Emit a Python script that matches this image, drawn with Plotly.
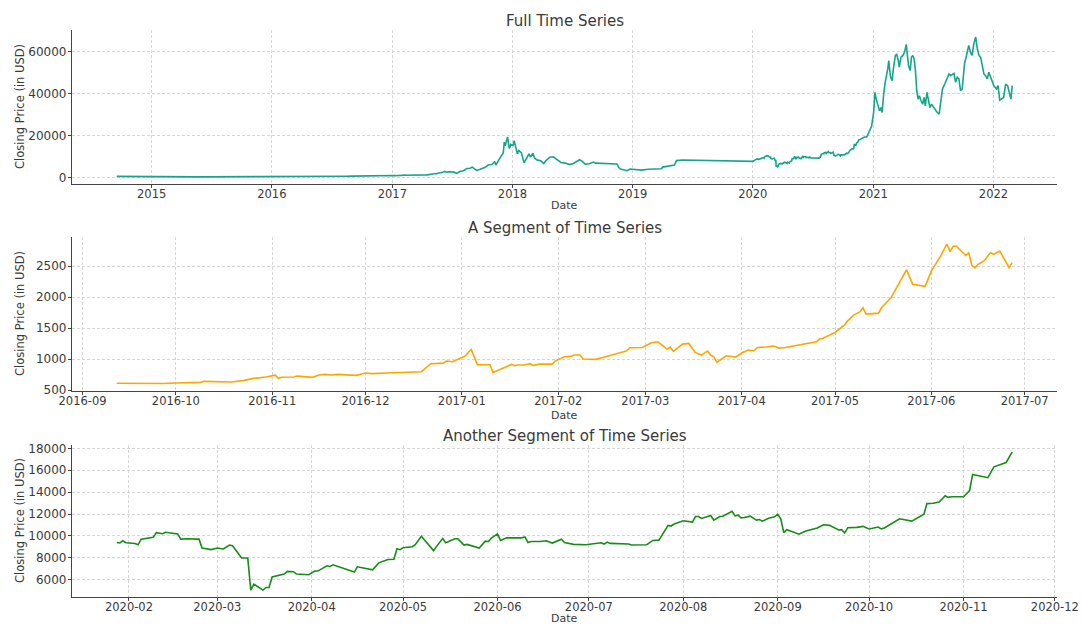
import pandas as pd
import plotly.graph_objects as go

# ---- closing prices (USD) ----
# 2014-09 .. 2016-09
early_dates = ["2014-09-17", "2014-10-15", "2014-11-15", "2014-12-15", "2015-01-14", "2015-02-15",
               "2015-03-15", "2015-04-15", "2015-05-15", "2015-06-15", "2015-07-15", "2015-08-15",
               "2015-09-15", "2015-10-15", "2015-11-04", "2015-11-15", "2015-12-15", "2016-01-15",
               "2016-02-15", "2016-03-15", "2016-04-15", "2016-05-15", "2016-06-17", "2016-07-15",
               "2016-08-15", "2016-09-01"]
early_close = [457, 395, 400, 345, 178, 235, 285, 225, 237, 236, 285, 260,
               229, 255, 400, 320, 440, 375, 405, 415, 430, 455, 760, 660,
               570, 575]

# first window: 2016-09 .. 2017-06
seg_a_dates = ["2016-09-12", "2016-09-16", "2016-09-21", "2016-09-27", "2016-10-01", "2016-10-09",
               "2016-10-10", "2016-10-17", "2016-10-19", "2016-10-23", "2016-10-26", "2016-10-30",
               "2016-11-02", "2016-11-03", "2016-11-04", "2016-11-08", "2016-11-09", "2016-11-14",
               "2016-11-16", "2016-11-18", "2016-11-20", "2016-11-22", "2016-11-28", "2016-12-01",
               "2016-12-03", "2016-12-08", "2016-12-14", "2016-12-16", "2016-12-19", "2016-12-22",
               "2016-12-26", "2016-12-27", "2016-12-29", "2017-01-02", "2017-01-04", "2017-01-06",
               "2017-01-10", "2017-01-11", "2017-01-17", "2017-01-18", "2017-01-19", "2017-01-21",
               "2017-01-23", "2017-01-24", "2017-01-26", "2017-01-30", "2017-01-31", "2017-02-03",
               "2017-02-05", "2017-02-06", "2017-02-08", "2017-02-09", "2017-02-13", "2017-02-15",
               "2017-02-19", "2017-02-22", "2017-02-23", "2017-02-24", "2017-02-28", "2017-03-03",
               "2017-03-05", "2017-03-08", "2017-03-09", "2017-03-10", "2017-03-13", "2017-03-15",
               "2017-03-17", "2017-03-19", "2017-03-21", "2017-03-22", "2017-03-23", "2017-03-24",
               "2017-03-27", "2017-03-30", "2017-04-01", "2017-04-03", "2017-04-05", "2017-04-06",
               "2017-04-09", "2017-04-11", "2017-04-12", "2017-04-13", "2017-04-15", "2017-04-17",
               "2017-04-19", "2017-04-21", "2017-04-23", "2017-04-25", "2017-04-26", "2017-04-27",
               "2017-05-01", "2017-05-04", "2017-05-05", "2017-05-07", "2017-05-09", "2017-05-10",
               "2017-05-11", "2017-05-15", "2017-05-16", "2017-05-17", "2017-05-19", "2017-05-21",
               "2017-05-24", "2017-05-26", "2017-05-30", "2017-06-01", "2017-06-04", "2017-06-06",
               "2017-06-07", "2017-06-08", "2017-06-09", "2017-06-12", "2017-06-13", "2017-06-14",
               "2017-06-15", "2017-06-16", "2017-06-18", "2017-06-20", "2017-06-21", "2017-06-23",
               "2017-06-26", "2017-06-27"]
seg_a_close = [610, 608, 597, 605, 613, 624,
               640, 640, 630, 656, 688, 710,
               740, 688, 705, 710, 725, 705,
               742, 752, 742, 752, 737, 775,
               765, 775, 780, 790, 796, 925,
               935, 968, 957, 1048, 1155, 909,
               909, 785, 914, 892, 903, 903,
               925, 898, 919, 919, 968, 1038,
               1043, 1065, 1065, 1000, 995, 1022,
               1070, 1118, 1134, 1183, 1188, 1263,
               1280, 1161, 1194, 1124, 1242, 1253,
               1108, 1065, 1129, 1065, 1038, 946,
               1054, 1032, 1097, 1145, 1134, 1188,
               1194, 1210, 1199, 1177, 1188, 1204,
               1226, 1237, 1258, 1280, 1323, 1333,
               1430, 1548, 1613, 1710, 1763, 1828,
               1726, 1742, 1833, 1887, 1989, 2172,
               2441, 2210, 2177, 2425, 2667, 2860,
               2737, 2823, 2828, 2677, 2715, 2516,
               2473, 2532, 2591, 2720, 2694, 2747,
               2478, 2559]

# 2017-07 .. 2020-01
mid_dates = ["2017-07-05", "2017-07-16", "2017-07-25", "2017-08-05", "2017-08-15", "2017-08-25",
             "2017-09-01", "2017-09-14", "2017-09-25", "2017-10-10", "2017-10-20", "2017-10-30",
             "2017-11-08", "2017-11-12", "2017-11-20", "2017-11-28", "2017-12-04", "2017-12-07",
             "2017-12-10", "2017-12-17", "2017-12-22", "2017-12-27", "2018-01-03", "2018-01-06",
             "2018-01-10", "2018-01-16", "2018-01-20", "2018-01-28", "2018-02-05", "2018-02-10",
             "2018-02-20", "2018-02-25", "2018-03-04", "2018-03-10", "2018-03-18", "2018-03-28",
             "2018-04-06", "2018-04-12", "2018-04-24", "2018-05-05", "2018-05-15", "2018-05-28",
             "2018-06-10", "2018-06-24", "2018-07-05", "2018-07-24", "2018-08-01", "2018-08-10",
             "2018-08-22", "2018-09-04", "2018-09-10", "2018-11-14", "2018-11-20", "2018-11-25",
             "2018-12-07", "2018-12-15", "2018-12-24", "2019-01-10", "2019-01-28", "2019-02-18",
             "2019-03-10", "2019-03-30", "2019-04-02", "2019-04-20", "2019-05-08", "2019-05-14",
             "2019-05-20", "2019-06-01", "2020-01-01", "2020-01-08", "2020-01-14", "2020-01-20"]
mid_close = [2600, 1930, 2750, 3200, 4200, 4350,
             4900, 3300, 3900, 4800, 6000, 6100,
             7400, 5900, 8200, 9900, 11600, 16800,
             15000, 19300, 13800, 15700, 15200, 17500,
             14500, 11200, 12800, 11800, 6900, 8600,
             11200, 9600, 11500, 9000, 8200, 7900,
             6600, 7900, 9600, 9800, 8700, 7100,
             6800, 6100, 6600, 8400, 7600, 6300,
             6500, 7300, 6800, 6400, 4700, 4000,
             3500, 3200, 4000, 3600, 3450, 3900,
             3900, 4100, 4900, 5300, 5900, 8000,
             8100, 8300, 7600, 8100, 8800, 8600]

# second window: 2020-01 .. 2020-11
seg_b_dates = ["2020-01-28", "2020-01-29", "2020-01-30", "2020-01-31", "2020-02-03", "2020-02-04",
               "2020-02-05", "2020-02-07", "2020-02-09", "2020-02-10", "2020-02-12", "2020-02-13",
               "2020-02-17", "2020-02-18", "2020-02-20", "2020-02-24", "2020-02-25", "2020-02-28",
               "2020-03-01", "2020-03-03", "2020-03-05", "2020-03-06", "2020-03-09", "2020-03-11",
               "2020-03-12", "2020-03-13", "2020-03-16", "2020-03-17", "2020-03-18", "2020-03-19",
               "2020-03-21", "2020-03-23", "2020-03-24", "2020-03-26", "2020-03-27", "2020-03-31",
               "2020-04-02", "2020-04-03", "2020-04-06", "2020-04-07", "2020-04-08", "2020-04-13",
               "2020-04-15", "2020-04-16", "2020-04-18", "2020-04-21", "2020-04-23", "2020-04-26",
               "2020-04-28", "2020-04-29", "2020-04-30", "2020-05-01", "2020-05-04", "2020-05-05",
               "2020-05-07", "2020-05-11", "2020-05-12", "2020-05-14", "2020-05-15", "2020-05-18",
               "2020-05-19", "2020-05-21", "2020-05-22", "2020-05-26", "2020-05-28", "2020-05-29",
               "2020-05-30", "2020-06-01", "2020-06-02", "2020-06-04", "2020-06-09", "2020-06-10",
               "2020-06-11", "2020-06-12", "2020-06-15", "2020-06-17", "2020-06-19", "2020-06-21",
               "2020-06-22", "2020-06-23", "2020-06-26", "2020-06-30", "2020-07-02", "2020-07-05",
               "2020-07-06", "2020-07-07", "2020-07-08", "2020-07-14", "2020-07-15", "2020-07-20",
               "2020-07-22", "2020-07-24", "2020-07-27", "2020-07-28", "2020-07-29", "2020-08-01",
               "2020-08-04", "2020-08-05", "2020-08-06", "2020-08-07", "2020-08-10", "2020-08-11",
               "2020-08-13", "2020-08-14", "2020-08-17", "2020-08-18", "2020-08-19", "2020-08-20",
               "2020-08-21", "2020-08-23", "2020-08-25", "2020-08-26", "2020-08-27", "2020-08-29",
               "2020-08-31", "2020-09-01", "2020-09-02", "2020-09-03", "2020-09-04", "2020-09-08",
               "2020-09-10", "2020-09-14", "2020-09-16", "2020-09-18", "2020-09-21", "2020-09-22",
               "2020-09-23", "2020-09-24", "2020-09-27", "2020-09-29", "2020-10-01", "2020-10-04",
               "2020-10-05", "2020-10-06", "2020-10-11", "2020-10-13", "2020-10-15", "2020-10-19",
               "2020-10-20", "2020-10-22", "2020-10-24", "2020-10-26", "2020-10-27", "2020-10-28",
               "2020-11-01", "2020-11-03", "2020-11-04", "2020-11-09", "2020-11-11", "2020-11-15",
               "2020-11-17"]
seg_b_close = [9400, 9350, 9550, 9370, 9300, 9180,
               9700, 9820, 9880, 10300, 10200, 10330,
               10180, 9700, 9730, 9700, 8890, 8740,
               8890, 8800, 9160, 9100, 7980, 7980,
               5040, 5580, 5040, 5280, 5280, 6240,
               6390, 6510, 6750, 6720, 6510, 6450,
               6780, 6780, 7260, 7200, 7350, 6900,
               6690, 7170, 7080, 6900, 7530, 7840,
               7860, 8830, 8740, 8920, 9010, 9190,
               9970, 8650, 9040, 9760, 9370, 9730,
               9730, 9160, 9220, 8890, 9520, 9490,
               9790, 10180, 9580, 9820, 9820, 9910,
               9400, 9490, 9490, 9550, 9340, 9550,
               9700, 9400, 9220, 9190, 9280, 9370,
               9250, 9430, 9310, 9250, 9160, 9190,
               9580, 9610, 10960, 10900, 11080, 11380,
               11260, 11770, 11770, 11590, 11860, 11440,
               11770, 11800, 12250, 11830, 11890, 11650,
               11680, 11800, 11440, 11500, 11350, 11620,
               11740, 11980, 11560, 10300, 10570, 10150,
               10420, 10720, 11020, 10960, 10540, 10570,
               10270, 10750, 10780, 10870, 10630, 10810,
               10630, 10720, 11560, 11470, 11350, 11980,
               12950, 12980, 13100, 13670, 13520, 13580,
               13580, 14150, 15620, 15320, 16320, 16710,
               17680]

# 2020-11 .. 2022-02
late_dates = ["2020-11-29", "2020-12-05", "2020-12-12", "2020-12-20", "2020-12-27", "2021-01-02",
              "2021-01-06", "2021-01-10", "2021-01-15", "2021-01-20", "2021-01-25", "2021-01-28",
              "2021-02-01", "2021-02-06", "2021-02-14", "2021-02-17", "2021-02-22", "2021-02-27",
              "2021-03-03", "2021-03-09", "2021-03-13", "2021-03-18", "2021-03-21", "2021-03-26",
              "2021-04-01", "2021-04-06", "2021-04-11", "2021-04-14", "2021-04-18", "2021-04-23",
              "2021-04-27", "2021-05-01", "2021-05-05", "2021-05-09", "2021-05-13", "2021-05-17",
              "2021-05-21", "2021-05-26", "2021-05-31", "2021-06-04", "2021-06-08", "2021-06-13",
              "2021-06-18", "2021-06-22", "2021-06-27", "2021-07-02", "2021-07-07", "2021-07-12",
              "2021-07-20", "2021-07-30", "2021-08-06", "2021-08-12", "2021-08-19", "2021-08-24",
              "2021-08-29", "2021-09-03", "2021-09-08", "2021-09-13", "2021-09-18", "2021-09-23",
              "2021-09-28", "2021-10-05", "2021-10-11", "2021-10-18", "2021-10-23", "2021-10-28",
              "2021-11-02", "2021-11-08", "2021-11-13", "2021-11-18", "2021-11-23", "2021-11-28",
              "2021-12-03", "2021-12-08", "2021-12-13", "2021-12-18", "2021-12-25", "2022-01-02",
              "2022-01-10", "2022-01-15", "2022-01-20", "2022-01-25", "2022-02-01", "2022-02-07",
              "2022-02-13", "2022-02-18", "2022-02-23", "2022-02-27"]
late_close = [18560, 19200, 19200, 22400, 24480, 30880,
              40480, 37280, 34880, 31680, 33280, 30880,
              38880, 45280, 51680, 55680, 48000, 46080,
              51680, 58080, 58560, 55680, 52480, 57280,
              58080, 59680, 63360, 58880, 53280, 50880,
              57280, 58080, 56480, 50880, 41280, 37280,
              38880, 36480, 34880, 38080, 34080, 40480,
              35200, 33280, 34880, 33600, 32480, 31360,
              30080, 42080, 44480, 46400, 49280, 48480,
              49280, 49600, 45280, 47680, 46880, 41280,
              42080, 54080, 58080, 62880, 59680, 58080,
              63360, 66880, 61280, 58080, 57280, 52480,
              49280, 48480, 46880, 50080, 46880, 43680,
              42080, 43680, 36800, 37280, 38080, 44480,
              43680, 40480, 37280, 43680]

TITLES = ["Full Time Series", "A Segment of Time Series", "Another Segment of Time Series"]
COLORS = ["#17a589", "#ffa500", "#178c17"]
Y_DTICK = [20000, 500, 2000]

full = pd.DataFrame({
    "date": pd.to_datetime(early_dates + seg_a_dates + mid_dates + seg_b_dates + late_dates),
    "close": early_close + seg_a_close + mid_close + seg_b_close + late_close,
}).sort_values("date")
seg_a = pd.DataFrame({"date": pd.to_datetime(seg_a_dates), "close": seg_a_close})
seg_b = pd.DataFrame({"date": pd.to_datetime(seg_b_dates), "close": seg_b_close})
panels = [full, seg_a, seg_b]

W, H = 1083, 626
LEFT, RIGHT = 72, 1057
BOXES = [(30, 184), (237, 391), (445, 597)]  # (top, bottom) in px
DATE_GAP = [21, 24, 21]                      # x-title offset below each axis, px

FONT = "DejaVu Sans"
TXT = "#3a3a3a"
GRID = dict(showgrid=True, gridcolor="#d6d6d6", griddash="3px,2px", gridwidth=0.8)
AXLINE = dict(showline=True, linecolor="#444444", linewidth=1.2,
              ticks="outside", ticklen=3, tickcolor="#444444", zeroline=False, automargin=False)

fig = go.Figure()
for i, (df, color) in enumerate(zip(panels, COLORS)):
    n = "" if i == 0 else str(i + 1)
    fig.add_trace(go.Scatter(x=df["date"], y=df["close"], mode="lines",
                             line=dict(color=color, width=1.6),
                             xaxis="x" + n, yaxis="y" + n, showlegend=False))

    # 5% padding around the data, like a default autoscale
    t0, t1 = df["date"].min(), df["date"].max()
    dt = (t1 - t0) * 0.05
    v0, v1 = df["close"].min(), df["close"].max()
    dv = (v1 - v0) * 0.05
    top, bottom = BOXES[i]

    xa = dict(domain=[LEFT / W, RIGHT / W], anchor="y" + n,
              range=[t0 - dt, t1 + dt], type="date",
              tickfont=dict(family=FONT, size=11.5, color=TXT), ticklabelstandoff=-4,
              **GRID, **AXLINE)
    if i == 0:
        xa.update(dtick="M12", tick0="2015-01-01", tickformat="%Y")
    else:
        xa.update(dtick="M1", tick0="2016-01-01", tickformat="%Y-%m")

    ya = dict(domain=[1 - bottom / H, 1 - top / H], anchor="x" + n,
              range=[v0 - dv, v1 + dv], dtick=Y_DTICK[i], tick0=0, tickformat="d",
              tickfont=dict(family=FONT, size=12, color=TXT), ticklabelstandoff=-1,
              **GRID, **AXLINE)
    fig.layout["xaxis" + n] = xa
    fig.layout["yaxis" + n] = ya

    # panel title
    fig.add_annotation(text=TITLES[i], xref="paper", yref="paper",
                       x=(LEFT + RIGHT) / 2 / W, y=1 - top / H, yshift=-2,
                       xanchor="center", yanchor="bottom", showarrow=False,
                       font=dict(family=FONT, size=15, color=TXT))
    # axis titles
    fig.add_annotation(text="Date", xref="paper", yref="paper",
                       x=(LEFT + RIGHT) / 2 / W, y=1 - (bottom + DATE_GAP[i]) / H,
                       xanchor="center", yanchor="middle", showarrow=False, borderpad=0,
                       font=dict(family=FONT, size=11, color=TXT))
    fig.add_annotation(text="Closing Price (in USD)", xref="paper", yref="paper",
                       x=20 / W, y=1 - (top + bottom) / 2 / H, textangle=-90,
                       xanchor="center", yanchor="middle", showarrow=False,
                       font=dict(family=FONT, size=11.5, color=TXT))

fig.update_layout(width=W, height=H, margin=dict(l=0, r=0, t=0, b=0),
                  paper_bgcolor="white", plot_bgcolor="white")

fig.write_html("out.html")
